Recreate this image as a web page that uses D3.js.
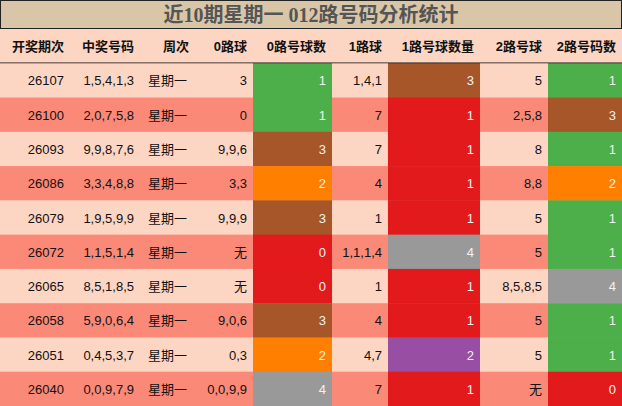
<!DOCTYPE html><html><head><meta charset="utf-8">
<script src="https://cdn.jsdelivr.net/npm/d3@7"></script>
<style>body{margin:0;background:#fff}</style></head><body><svg id="c" width="622" height="406"></svg>
<script>
const title = "近10期星期一 012路号码分析统计";
const headers = ["开奖期次","中奖号码","周次","0路球","0路号球数","1路球","1路号球数量","2路号球","2路号码数"];
const periods = ["26107","26100","26093","26086","26079","26072","26065","26058","26051","26040"];
const numbers = ["1,5,4,1,3","2,0,7,5,8","9,9,8,7,6","3,3,4,8,8","1,9,5,9,9","1,1,5,1,4","8,5,1,8,5","5,9,0,6,4","0,4,5,3,7","0,0,9,7,9"];
const week = "星期一";
const road0 = ["3","0","9,9,6","3,3","9,9,9","无","无","9,0,6","0,3","0,0,9,9"];
const count0 = [1,1,3,2,3,0,0,3,2,4];
const road1 = ["1,4,1","7","7","4","1","1,1,1,4","1","4","4,7","7"];
const count1 = [3,1,1,1,1,4,1,1,2,1];
const road2 = ["5","2,5,8","8","8,8","5","5","8,5,8,5","5","5","无"];
const count2 = [1,3,1,2,1,1,4,1,1,0];

const colorA = {0:"#e31a1c",1:"#4daf4a",2:"#ff7f00",3:"#a65628",4:"#999999"};
const colorB = {1:"#e31a1c",2:"#984ea3",3:"#a65628",4:"#999999"};
const edges = [0,70,140,195,253,332,388,480,548,622];
const svg = d3.select("#c");
const font = "'Liberation Sans','Noto Sans CJK SC',sans-serif";

svg.append("rect").attr("x",0.5).attr("y",0.5).attr("width",621).attr("height",28).attr("fill","#d8c6a7").attr("stroke","#222");
svg.append("text").attr("x",311).attr("y",22).attr("text-anchor","middle").attr("font-family","'Liberation Serif','Noto Sans CJK SC',serif").attr("font-weight","bold").attr("font-size",20).attr("fill","#555").text(title);

const y = d3.scaleBand().domain(d3.range(11)).range([29,406]);
svg.append("rect").attr("x",0).attr("y",y(0)).attr("width",622).attr("height",y.bandwidth()).attr("fill","#fcd5c3");
headers.forEach((h,i)=>{
  svg.append("text").attr("x",edges[i+1]-6).attr("y",y(0)+y.bandwidth()/2+5).attr("text-anchor","end")
   .attr("font-family",font).attr("font-weight","bold").attr("font-size",13).attr("fill","#111").text(h);
});
svg.append("line").attr("x1",0).attr("x2",622).attr("y1",y(1)).attr("y2",y(1)).attr("stroke","#111").attr("stroke-width",1.5);

periods.forEach((p,r)=>{
  const yy=y(r+1), h=y.bandwidth();
  const bg = r%2===0?"#fcd5c3":"#fa8978";
  const cells=[[p,null],[numbers[r],null],[week,null],[road0[r],null],[String(count0[r]),colorA[count0[r]]],[road1[r],null],[String(count1[r]),colorB[count1[r]]],[road2[r],null],[String(count2[r]),colorA[count2[r]]]];
  cells.forEach((c,i)=>{
    svg.append("rect").attr("x",edges[i]).attr("y",yy).attr("width",edges[i+1]-edges[i]).attr("height",h+0.5).attr("fill",c[1]||bg);
    const t=svg.append("text").attr("y",yy+h/2+5).attr("font-family",font).attr("font-size",13).attr("fill",c[1]?"#f2f2f2":"#111").text(c[0]);
    if(i===2) t.attr("x",edges[i]+8).attr("text-anchor","start");
    else t.attr("x",edges[i+1]-6).attr("text-anchor","end");
  });
});
</script></body></html>
